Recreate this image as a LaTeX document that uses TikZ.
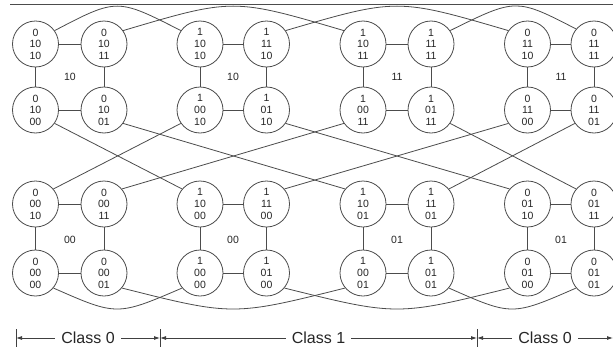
\documentclass[tikz,border=0pt]{standalone}
\usepackage{fontspec}
\setmainfont{Liberation Sans}
\usetikzlibrary{arrows.meta}
\begin{document}
\begin{tikzpicture}[x=1pt,y=-1pt,
  st/.style={circle,draw=black!70,line width=0.8pt,minimum size=46pt,inner sep=0pt,align=center,
    font=\fontsize{10.5}{11.6}\selectfont,text=black!85},
  conn/.style={draw=black!70,line width=0.8pt},
  grp/.style={font=\fontsize{10.5}{12}\selectfont,text=black!85},
  dim/.style={draw=black!75,line width=0.8pt,{Latex[length=6pt,width=4pt]}-{Latex[length=6pt,width=4pt]}},
  tick/.style={draw=black!75,line width=0.8pt},
  lbl/.style={fill=white,inner xsep=6pt,inner ysep=1pt,font=\fontsize{16}{18}\selectfont,text=black!85}]
\useasboundingbox (0,0) rectangle (613,351);
\fill[white] (0,0) rectangle (613,351);
% top rule
\coordinate (tl0) at (10,4.5);
\coordinate (tl1) at (613,4.5);
\draw[black!70,line width=1.4pt] (tl0) -- (tl1);
% nodes
\foreach \c/\x in {1/35.5,2/104,3/200,4/266.5,5/363,6/431,7/527.5,8/594}{
  \coordinate (x\c) at (\x,0);
}
\node[st] (r1c1) at (35.5,44) {0\\10\\10};
\node[st] (r1c2) at (104,44) {0\\10\\11};
\node[st] (r1c3) at (200,44) {1\\10\\10};
\node[st] (r1c4) at (266.5,44) {1\\11\\10};
\node[st] (r1c5) at (363,44) {1\\10\\11};
\node[st] (r1c6) at (431,44) {1\\11\\11};
\node[st] (r1c7) at (527.5,44) {0\\11\\10};
\node[st] (r1c8) at (594,44) {0\\11\\11};
\node[st] (r2c1) at (35.5,110) {0\\10\\00};
\node[st] (r2c2) at (104,110) {0\\10\\01};
\node[st] (r2c3) at (200,110) {1\\00\\10};
\node[st] (r2c4) at (266.5,110) {1\\01\\10};
\node[st] (r2c5) at (363,110) {1\\00\\11};
\node[st] (r2c6) at (431,110) {1\\01\\11};
\node[st] (r2c7) at (527.5,110) {0\\11\\00};
\node[st] (r2c8) at (594,110) {0\\11\\01};
\node[st] (r3c1) at (35.5,204) {0\\00\\10};
\node[st] (r3c2) at (104,204) {0\\00\\11};
\node[st] (r3c3) at (200,204) {1\\10\\00};
\node[st] (r3c4) at (266.5,204) {1\\11\\00};
\node[st] (r3c5) at (363,204) {1\\10\\01};
\node[st] (r3c6) at (431,204) {1\\11\\01};
\node[st] (r3c7) at (527.5,204) {0\\01\\10};
\node[st] (r3c8) at (594,204) {0\\01\\11};
\node[st] (r4c1) at (35.5,273) {0\\00\\00};
\node[st] (r4c2) at (104,273) {0\\00\\01};
\node[st] (r4c3) at (200,273) {1\\00\\00};
\node[st] (r4c4) at (266.5,273) {1\\01\\00};
\node[st] (r4c5) at (363,273) {1\\00\\01};
\node[st] (r4c6) at (431,273) {1\\01\\01};
\node[st] (r4c7) at (527.5,273) {0\\01\\00};
\node[st] (r4c8) at (594,273) {0\\01\\01};
% group labels
\node[grp] (g1) at (70,77) {10};
\node[grp] (g2) at (233,77) {10};
\node[grp] (g3) at (397,77) {11};
\node[grp] (g4) at (561,77) {11};
\node[grp] (g5) at (70,240) {00};
\node[grp] (g6) at (233,240) {00};
\node[grp] (g7) at (397,240) {01};
\node[grp] (g8) at (561,240) {01};
% squares
\foreach \a/\b in {1/2,3/4,5/6,7/8}{
  \draw[conn] (r1c\a.east) -- (r1c\b.west);
  \draw[conn] (r2c\a.east) -- (r2c\b.west);
  \draw[conn] (r3c\a.east) -- (r3c\b.west);
  \draw[conn] (r4c\a.east) -- (r4c\b.west);
}
\foreach \c in {1,...,8}{
  \draw[conn] (r1c\c.south) -- (r2c\c.north);
  \draw[conn] (r3c\c.south) -- (r4c\c.north);
}
% top arcs
\draw[conn] (r1c1.35) .. controls (117,-2) .. (r1c3.145);
\draw[conn] (r1c2.35) .. controls (233,-2) .. (r1c5.145);
\draw[conn] (r1c4.35) .. controls (397,-2) .. (r1c7.145);
\draw[conn] (r1c6.35) .. controls (516,-2) .. (r1c8.140);
% middle lines
\draw[conn] (r2c1.-35) -- (r3c3.140);
\draw[conn] (r2c2.-35) -- (r3c5.140);
\draw[conn] (r2c4.-35) -- (r3c7.140);
\draw[conn] (r2c6.-35) -- (r3c8.140);
\draw[conn] (r2c3.215) -- (r3c1.40);
\draw[conn] (r2c5.215) -- (r3c2.40);
\draw[conn] (r2c7.215) -- (r3c4.40);
\draw[conn] (r2c8.215) -- (r3c6.40);
% bottom arcs
\draw[conn] (r4c1.-40) .. controls (117,316) .. (r4c3.220);
\draw[conn] (r4c2.-40) .. controls (233,316) .. (r4c5.220);
\draw[conn] (r4c4.-40) .. controls (397,316) .. (r4c7.220);
\draw[conn] (r4c6.-40) .. controls (512,316) .. (r4c8.220);
% dimension line
\coordinate (t0) at (16,338);
\coordinate (t1) at (160,338);
\coordinate (t2) at (477,338);
\coordinate (t3) at (613,338);
\foreach \t in {t0,t1,t2}{
  \draw[tick] (\t) ++(0,-9) -- ++(0,18);
}
\draw[dim] (t0) -- node[lbl] (cl0) {Class 0} (t1);
\draw[dim] (t1) -- node[lbl] (cl1) {Class 1} (t2);
\draw[dim] (t2) -- node[lbl] (cl2) {Class 0} (t3);
\end{tikzpicture}
\end{document}
